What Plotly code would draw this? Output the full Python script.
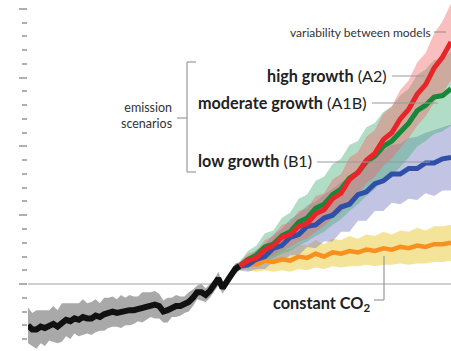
import plotly.graph_objects as go

# ---------------- data ----------------
hist_years = list(range(1900, 2001, 2))
hist_temp = [-0.30, -0.33, -0.33, -0.31, -0.32, -0.30, -0.29, -0.31, -0.28, -0.26,
             -0.27, -0.25, -0.26, -0.24, -0.25, -0.25, -0.23, -0.24, -0.22, -0.21,
             -0.20, -0.21, -0.20, -0.20, -0.19, -0.19, -0.18, -0.17, -0.16, -0.15,
             -0.15, -0.16, -0.20, -0.19, -0.17, -0.16, -0.16, -0.15, -0.13, -0.10,
             -0.06, -0.06, -0.08, -0.05, -0.01, 0.04, -0.03, 0.02, 0.07, 0.11, 0.13]
hist_spread = [0.13, 0.12, 0.14, 0.12, 0.13, 0.11, 0.13, 0.12, 0.14, 0.12,
               0.13, 0.11, 0.12, 0.13, 0.11, 0.12, 0.12, 0.10, 0.12, 0.11,
               0.11, 0.10, 0.12, 0.10, 0.11, 0.10, 0.09, 0.11, 0.10, 0.09,
               0.10, 0.09, 0.08, 0.09, 0.07, 0.08, 0.07, 0.06, 0.07, 0.06,
               0.05, 0.06, 0.05, 0.05, 0.04, 0.05, 0.04, 0.04, 0.03, 0.04, 0.03]

proj_years = list(range(2000, 2101, 4))
a2_temp = [0.13, 0.17, 0.19, 0.25, 0.28, 0.34, 0.36, 0.42, 0.44, 0.51, 0.54, 0.62, 0.66,
           0.76, 0.81, 0.90, 0.95, 1.05, 1.10, 1.20, 1.27, 1.38, 1.45, 1.57, 1.65, 1.76]
a1b_temp = [0.13, 0.18, 0.21, 0.27, 0.29, 0.35, 0.38, 0.45, 0.48, 0.55, 0.58, 0.65, 0.69,
            0.77, 0.81, 0.89, 0.93, 1.00, 1.04, 1.11, 1.17, 1.26, 1.30, 1.36, 1.37, 1.42]
b1_temp = [0.13, 0.14, 0.18, 0.20, 0.26, 0.28, 0.34, 0.36, 0.42, 0.43, 0.48, 0.50, 0.56,
           0.58, 0.65, 0.67, 0.73, 0.75, 0.80, 0.80, 0.84, 0.84, 0.88, 0.88, 0.91, 0.92]
co2_temp = [0.13, 0.15, 0.14, 0.17, 0.16, 0.18, 0.17, 0.20, 0.19, 0.22, 0.20, 0.23, 0.22,
            0.24, 0.23, 0.25, 0.24, 0.26, 0.25, 0.27, 0.26, 0.28, 0.27, 0.29, 0.29, 0.30]

a2_spread = [0.03, 0.05, 0.05, 0.07, 0.07, 0.09, 0.09, 0.11, 0.11, 0.13, 0.12, 0.14, 0.14,
             0.16, 0.15, 0.17, 0.17, 0.19, 0.19, 0.21, 0.21, 0.23, 0.23, 0.25, 0.26, 0.28]
a1b_spread = [0.03, 0.06, 0.07, 0.10, 0.10, 0.13, 0.14, 0.17, 0.17, 0.20, 0.20, 0.22, 0.22,
              0.24, 0.23, 0.25, 0.24, 0.25, 0.25, 0.26, 0.25, 0.26, 0.26, 0.27, 0.26, 0.27]
b1_spread = [0.03, 0.05, 0.07, 0.09, 0.10, 0.12, 0.13, 0.15, 0.15, 0.17, 0.17, 0.19, 0.18,
             0.20, 0.19, 0.21, 0.20, 0.22, 0.21, 0.22, 0.22, 0.23, 0.22, 0.24, 0.23, 0.24]
co2_spread = [0.03, 0.05, 0.05, 0.07, 0.07, 0.08, 0.08, 0.09, 0.09, 0.10, 0.09, 0.10, 0.10,
              0.11, 0.10, 0.11, 0.11, 0.12, 0.11, 0.12, 0.12, 0.13, 0.12, 0.13, 0.13, 0.13]

label_a2 = "<b>high growth</b> (A2)"
label_a1b = "<b>moderate growth</b> (A1B)"
label_b1 = "<b>low growth</b> (B1)"
label_co2 = "<b>constant CO<sub>2</sub></b>"
label_var = "variability between models"
label_em = "emission<br>scenarios"

# ---------------- figure ----------------
W, H = 451, 351
ML = 28
PW = W - ML


def px(x):
    return (x - ML) / PW


def py(y):
    return 1 - y / H


fig = go.Figure()


def add_band(xs, mid, spread, color):
    up = [m + s for m, s in zip(mid, spread)]
    lo = [m - s for m, s in zip(mid, spread)]
    fig.add_trace(go.Scatter(x=xs, y=up, mode="lines", line=dict(width=0, color=color),
                             hoverinfo="skip", showlegend=False))
    fig.add_trace(go.Scatter(x=xs, y=lo, mode="lines", line=dict(width=0, color=color),
                             fill="tonexty", fillcolor=color, hoverinfo="skip",
                             showlegend=False))


def add_line(xs, ys, color, width):
    fig.add_trace(go.Scatter(x=xs, y=ys, mode="lines", line=dict(color=color, width=width),
                             hoverinfo="skip", showlegend=False))


add_band(hist_years, hist_temp, hist_spread, "rgba(140,140,140,0.75)")
add_band(proj_years, co2_temp, co2_spread, "rgba(236,214,100,0.65)")
add_band(proj_years, b1_temp, b1_spread, "rgba(120,125,195,0.45)")
add_band(proj_years, a1b_temp, a1b_spread, "rgba(70,175,120,0.42)")
add_band(proj_years, a2_temp, a2_spread, "rgba(240,100,100,0.42)")

add_line(proj_years, co2_temp, "#f7901e", 4.5)
add_line(proj_years, b1_temp, "#2f4fa8", 5)
add_line(proj_years, a1b_temp, "#17873a", 5)
add_line(proj_years, a2_temp, "#e8262a", 5)
add_line(hist_years, hist_temp, "#111111", 6)

fig.update_xaxes(range=[1900, 2100], visible=False, showgrid=False, zeroline=False)
fig.update_yaxes(range=[-0.487, 2.065], showgrid=False, showticklabels=False,
                 showline=False, zeroline=True, zerolinecolor="#d0d0d0", zerolinewidth=1.5,
                 ticks="outside", tick0=0, dtick=0.5, ticklen=8, tickwidth=2,
                 tickcolor="#b0b0b0",
                 minor=dict(ticks="outside", dtick=0.1, tick0=0, ticklen=5, tickwidth=2,
                            tickcolor="#b0b0b0", showgrid=False))

FONT = "Lato"
TXT = "#222222"
anns = [
    dict(text=label_var, x=px(433), y=py(32), xanchor="right", yanchor="middle",
         font=dict(size=12, color="#333333")),
    dict(text=label_a2, x=px(389), y=py(75), xanchor="right", yanchor="middle",
         font=dict(size=16.2, color=TXT)),
    dict(text=label_a1b, x=px(369), y=py(102), xanchor="right", yanchor="middle",
         font=dict(size=16.2, color=TXT)),
    dict(text=label_b1, x=px(314), y=py(160), xanchor="right", yanchor="middle",
         font=dict(size=16.2, color=TXT)),
    dict(text=label_co2, x=px(372), y=py(303), xanchor="right", yanchor="middle",
         font=dict(size=16.3, color=TXT)),
    dict(text=label_em, x=px(174), y=py(116), xanchor="right", yanchor="middle",
         align="right", font=dict(size=12.5, color="#333333")),
]
for a in anns:
    a.update(xref="paper", yref="paper", showarrow=False)
    a["font"]["family"] = FONT
fig.update_layout(annotations=anns)

LC = "#999999"
segs = [
    (434, 32, 446, 32),
    (392, 76, 425, 76),
    (372, 103, 438, 103),
    (317, 162, 430, 162),
    (187, 62, 187, 172),
    (187, 62, 196, 62),
    (187, 172, 196, 172),
    (177, 118, 187, 118),
    (374, 300, 384, 300),
    (384, 300, 384, 256),
]
fig.update_layout(shapes=[dict(type="line", xref="paper", yref="paper",
                               x0=px(a), y0=py(b), x1=px(c), y1=py(d),
                               line=dict(color=LC, width=1.2), layer="above")
                          for a, b, c, d in segs])

fig.update_layout(width=W, height=H, autosize=False,
                  margin=dict(l=ML, r=0, t=0, b=0, pad=0),
                  plot_bgcolor="white", paper_bgcolor="white",
                  showlegend=False)

fig.write_html("out.html", config={"displayModeBar": False, "staticPlot": True},
               post_script="document.body.style.margin='0';document.body.style.overflow='hidden';")
